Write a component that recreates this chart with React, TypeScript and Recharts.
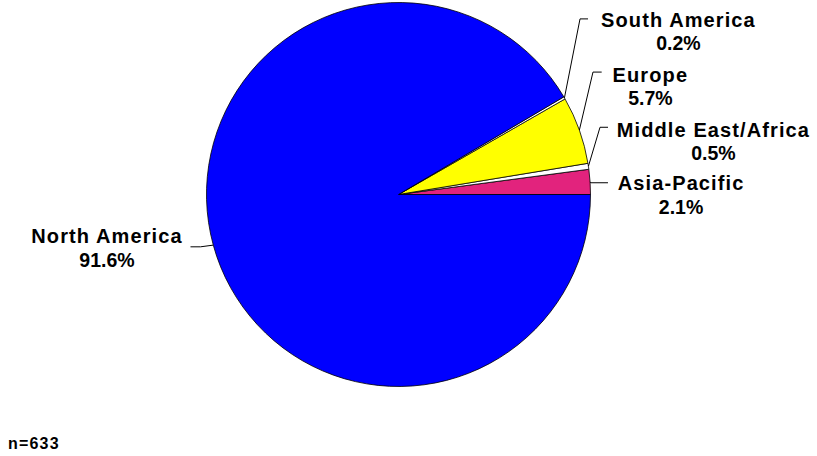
import React from "react";
import { PieChart, Pie, Cell } from "recharts";

// ---- data ----
const regions = ["Asia-Pacific", "Middle East/Africa", "Europe", "South America", "North America"];
const shares = [2.1, 0.5, 5.7, 0.2, 91.6];
const sampleNote = "n=633";

// ---- styles / layout (not data) ----
const sliceColors = ["#E2237D", "#FFFFFF", "#FFFF00", "#FFFFFF", "#0000FF"];
// per-label leader/text placement relative to slice edge point
const labelLayout = [
  { ex: 0.6, ey: 0.9, hx: 17.9, tx: 91, ty: 8.2 },
  { ex: 11.6, ey: -39, hx: 19.6, tx: 125, ty: -29.6 },
  { ex: 13.6, ey: -58, hx: 22.3, tx: 71, ty: -48.3 },
  { ex: 15.6, ey: -79, hx: 23.6, tx: 114, ty: -70.9 },
  { ex: -12.8, ey: 1.7, hx: -22.8, tx: -106.3, ty: -1.8 },
];

const chartData = regions.map((name, i) => ({ name, value: shares[i] }));

const FONT = "'Liberation Sans', Arial, Helvetica, sans-serif";
const RAD = Math.PI / 180;

const renderLabel = (props: any) => {
  const { cx, cy, midAngle, outerRadius, index } = props;
  const lay = labelLayout[index];
  const x0 = cx + outerRadius * Math.cos(-midAngle * RAD);
  const y0 = cy + outerRadius * Math.sin(-midAngle * RAD);
  const x1 = x0 + lay.ex;
  const y1 = y0 + lay.ey;
  const x2 = x0 + lay.hx;
  const tx = x0 + lay.tx;
  const ty = y0 + lay.ty;
  return (
    <g key={`lbl-${index}`}>
      <polyline
        points={`${x0},${y0} ${x1},${y1} ${x2},${y1}`}
        fill="none"
        stroke="#000"
        strokeWidth={1}
      />
      <text
        x={tx}
        y={ty}
        textAnchor="middle"
        fontFamily={FONT}
        fontWeight="bold"
        fontSize={20}
        letterSpacing={1.1}
        fill="#000"
      >
        {regions[index]}
      </text>
      <text
        x={tx}
        y={ty + 23.5}
        textAnchor="middle"
        fontFamily={FONT}
        fontWeight="bold"
        fontSize={19.5}
        fill="#000"
      >
        {`${shares[index].toFixed(1)}%`}
      </text>
    </g>
  );
};

export default function App() {
  return (
    <div style={{ position: "absolute", left: 0, top: 0, width: 817, height: 456, background: "#fff" }}>
      <PieChart width={817} height={456} margin={{ top: 0, right: 0, bottom: 0, left: 0 }}>
        <Pie
          data={chartData}
          dataKey="value"
          nameKey="name"
          cx={398.5}
          cy={194.5}
          outerRadius={192}
          startAngle={0}
          endAngle={360}
          stroke="#000"
          strokeWidth={0.8}
          label={renderLabel}
          labelLine={false}
          isAnimationActive={false}
        >
          {chartData.map((d, i) => (
            <Cell key={d.name} fill={sliceColors[i]} />
          ))}
        </Pie>
      </PieChart>
      <svg width={817} height={456} style={{ position: "absolute", left: 0, top: 0, pointerEvents: "none" }}>
        <text x={8} y={448.5} fontFamily={FONT} fontWeight="bold" fontSize={16} letterSpacing={1.2} fill="#000">
          {sampleNote}
        </text>
      </svg>
    </div>
  );
}
